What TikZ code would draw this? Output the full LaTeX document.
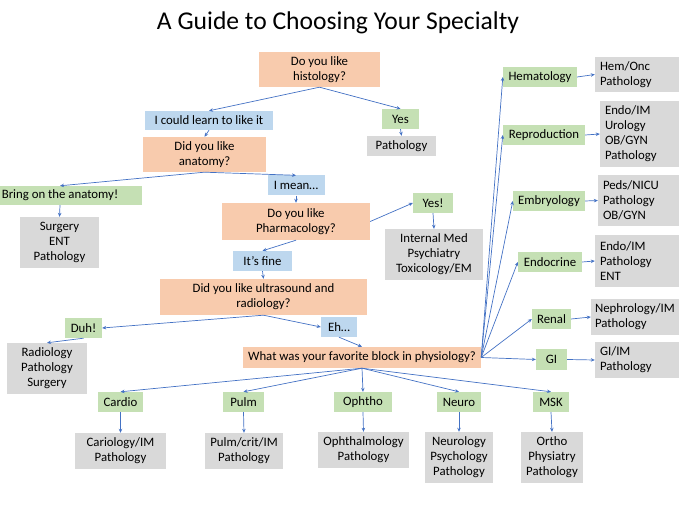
\documentclass[tikz,border=0pt]{standalone}
\usepackage{fontspec}
\setmainfont{Carlito}
\usetikzlibrary{arrows.meta}
\definecolor{orfill}{HTML}{F8CBAD}
\definecolor{blfill}{HTML}{BDD7EE}
\definecolor{grfill}{HTML}{C5E0B4}
\definecolor{gyfill}{HTML}{D9D9D9}
\definecolor{arrowc}{HTML}{4472C4}
\begin{document}
\begin{tikzpicture}[x=1pt,y=-1pt,
 base/.style={inner sep=0pt, align=center, font=\fontsize{12.8}{15}\selectfont, text=black},
 org/.style={base, fill=orfill},
 blu/.style={base, fill=blfill},
 grn/.style={base, fill=grfill},
 gry/.style={base, fill=gyfill},
 gryl/.style={base, fill=gyfill, align=left, inner xsep=5pt},
 sz/.style 2 args={minimum width=#1pt, minimum height=#2pt},
 conn/.style={draw=arrowc, line width=0.7pt, -{Stealth[length=4pt,width=3.5pt]}}
]
\useasboundingbox (0,0) rectangle (680,510);
\node[font=\fontsize{25.6}{30}\selectfont] (title) at (338,22.5) {A Guide to Choosing Your Specialty};

% main flow
\node[org, sz={121}{35}] (hist) at (319.5,69.5) {Do you like\\histology?};
\node[blu, sz={128}{19}] (learn) at (209,120.5) {I could learn to like it};
\node[grn, sz={37}{20}] (yes1) at (400.5,119) {Yes};
\node[gry, sz={69}{20}] (path1) at (401.5,146) {Pathology};
\node[org, sz={123}{35}] (anat) at (204.5,154.5) {Did you like\\anatomy?};
\node[grn, sz={164}{19}] (bring) at (60,195.5) {Bring on the anatomy!};
\node[gry, sz={79}{51}] (surg) at (59.5,242.5) {Surgery\\ENT\\Pathology};
\node[blu, sz={57}{20}] (imean) at (296,185.5) {I mean…};
\node[org, sz={148}{37}] (pharm) at (296,221.5) {Do you like\\Pharmacology?};
\node[grn, sz={40}{20}] (yes2) at (433,203) {Yes!};
\node[gry, sz={98}{51}] (intmed) at (434,254.5) {Internal Med\\Psychiatry\\Toxicology/EM};
\node[blu, sz={59}{20}] (fine) at (262.5,261) {It’s fine};
\node[org, sz={207}{36}] (ultra) at (263.5,297) {Did you like ultrasound and\\radiology?};
\node[grn, sz={37}{20}] (duh) at (83.5,328) {Duh!};
\node[gry, sz={80}{51}] (radio) at (47,368.5) {Radiology\\Pathology\\Surgery};
\node[blu, sz={36}{20}] (eh) at (339,327) {Eh…};
\node[org, sz={238}{21}] (phys) at (362,357.5) {What was your favorite block in physiology?};

% bottom row
\node[grn, sz={45}{20}] (cardio) at (120.5,402) {Cardio};
\node[grn, sz={41}{20}] (pulm) at (243.5,402) {Pulm};
\node[grn, sz={58}{20}] (ophtho) at (363,402) {Ophtho};
\node[grn, sz={44}{20}] (neuro) at (459,402) {Neuro};
\node[grn, sz={36}{20}] (msk) at (551,402) {MSK};
\node[gry, sz={91}{36}] (cariol) at (120.5,451) {Cariology/IM\\Pathology};
\node[gry, sz={78}{36}] (pulmcrit) at (244,451) {Pulm/crit/IM\\Pathology};
\node[gry, sz={91}{36}] (ophthal) at (363.5,450) {Ophthalmology\\Pathology};
\node[gry, sz={68}{51}] (neurol) at (459,457.5) {Neurology\\Psychology\\Pathology};
\node[gry, sz={62}{51}] (ortho) at (552,457.5) {Ortho\\Physiatry\\Pathology};

% right column
\node[grn, sz={74}{20}] (hema) at (540,77) {Hematology};
\node[gryl, sz={84}{35}, text width=74pt] (hemonc) at (637,74.5) {Hem/Onc\\Pathology};
\node[grn, sz={82}{20}] (repro) at (544,135) {Reproduction};
\node[gryl, sz={79}{66}, text width=69pt] (endoim) at (639.5,134) {Endo/IM\\Urology\\OB/GYN\\Pathology};
\node[grn, sz={72}{20}] (embry) at (549,201) {Embryology};
\node[gryl, sz={81}{51}, text width=71pt] (peds) at (638.5,200.5) {Peds/NICU\\Pathology\\OB/GYN};
\node[grn, sz={64}{20}] (endocr) at (550,262) {Endocrine};
\node[gryl, sz={84}{52}, text width=74pt] (endoent) at (637,261) {Endo/IM\\Pathology\\ENT};
\node[grn, sz={39}{20}] (renal) at (551.5,319) {Renal};
\node[gryl, sz={88}{36}, text width=80pt, inner xsep=4pt] (nephro) at (635,317) {Nephrology/IM\\Pathology};
\node[grn, sz={31}{21}] (gi) at (551.5,359.5) {GI};
\node[gryl, sz={84}{36}, text width=74pt] (giim) at (637,360) {GI/IM\\Pathology};

% connectors
\draw[conn] (hist.south) -- (learn.north);
\draw[conn] (hist.south) -- (yes1.north);
\draw[conn] (learn.south) -- (anat.north);
\draw[conn] (yes1.south) -- (path1.north);
\draw[conn] (anat.south) -- (bring.north);
\draw[conn] (anat.south) -- (imean.north);
\draw[conn] (bring.south) -- (surg.north);
\draw[conn] (imean.south) -- (pharm.north);
\draw[conn] (pharm.east) -- (yes2.west);
\draw[conn] (yes2.south) -- (intmed.north);
\draw[conn] (pharm.south) -- (fine.north);
\draw[conn] (fine.south) -- (ultra.north);
\draw[conn] (ultra.south) -- (duh.east);
\draw[conn] (ultra.south) -- (eh.west);
\draw[conn] (duh.south) -- (radio.north);
\draw[conn] (eh.south) -- (phys.north);
\foreach \g/\b in {cardio/cariol, pulm/pulmcrit, ophtho/ophthal, neuro/neurol, msk/ortho} {
  \draw[conn] (phys.south) -- (\g.north);
  \draw[conn] (\g.south) -- (\b.north);
}
\foreach \g/\b in {hema/hemonc, repro/endoim, embry/peds, endocr/endoent, renal/nephro, gi/giim} {
  \draw[conn] (phys.east) -- (\g.west);
  \draw[conn] (\g.east) -- (\b.west);
}
\end{tikzpicture}
\end{document}
